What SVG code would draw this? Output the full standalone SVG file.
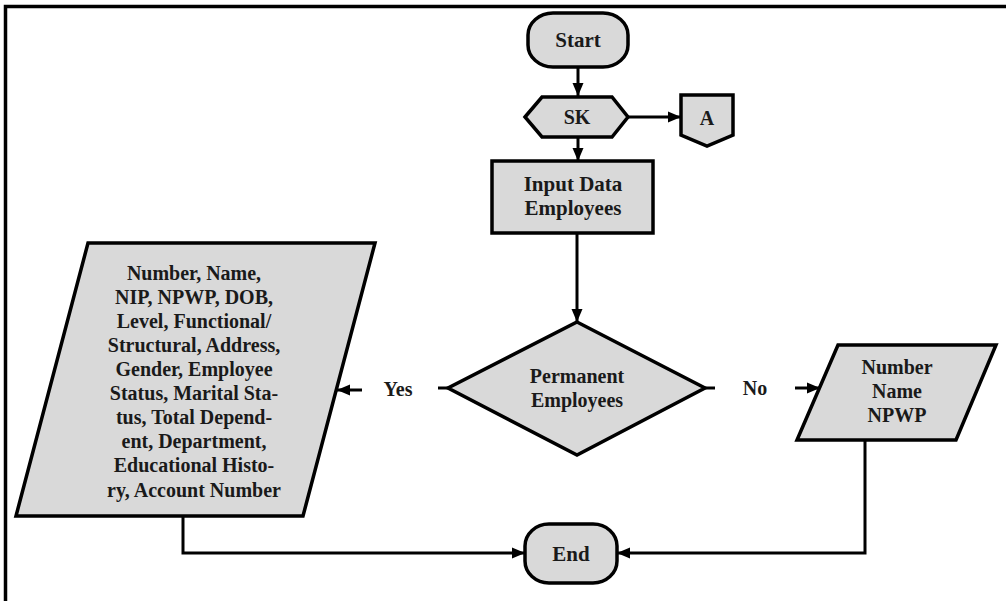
<svg xmlns="http://www.w3.org/2000/svg" width="1006" height="601" viewBox="0 0 1006 601">
<defs>
<marker id="ah" markerUnits="userSpaceOnUse" markerWidth="14" markerHeight="12" refX="13" refY="6" orient="auto">
<path d="M0,0.5 L13,6 L0,11.5 Z" fill="#000"/>
</marker>
<style>
.shape{fill:#d9d9d9;stroke:#000;stroke-width:3.5;stroke-linejoin:miter}
.conn{fill:none;stroke:#000;stroke-width:3}
text{font-family:"Liberation Serif","Times New Roman",serif;font-weight:bold;font-size:20px;fill:#1a1a1a;text-anchor:middle}
.big{font-size:21px}
</style>
</defs>
<rect width="1006" height="601" fill="#fff"/>
<path d="M5.5,601 V6.5 H1006" fill="none" stroke="#000" stroke-width="3.5"/>
<g id="connectors">
<path class="conn" d="M578,67 V96" marker-end="url(#ah)"/>
<path class="conn" d="M628,117 H681" marker-end="url(#ah)"/>
<path class="conn" d="M578,137 V161" marker-end="url(#ah)"/>
<path class="conn" d="M577,233 V322" marker-end="url(#ah)"/>
<path class="conn" d="M448,388 H438"/>
<path class="conn" d="M362,390 H337" marker-end="url(#ah)"/>
<path class="conn" d="M705,388 H715"/>
<path class="conn" d="M795,388 H820" marker-end="url(#ah)"/>
<path class="conn" d="M183,516 V553 H525" marker-end="url(#ah)"/>
<path class="conn" d="M865,440 V553 H617" marker-end="url(#ah)"/>
</g>
<g id="start">
<rect class="shape" x="528" y="13" width="100" height="54" rx="25" ry="22"/>
<text class="big" x="578" y="47">Start</text>
</g>
<g id="sk">
<polygon class="shape" points="525,117 542,97 612,97 628,117 612,137 542,137"/>
<text x="577" y="124">SK</text>
</g>
<g id="connectorA">
<polygon class="shape" points="681,95 733,95 733,135 707,146 681,135"/>
<text x="707" y="125">A</text>
</g>
<g id="input">
<rect class="shape" x="492" y="161" width="161" height="72"/>
<text class="big" x="573" y="191">Input Data</text>
<text class="big" x="573" y="215">Employees</text>
</g>
<g id="decision">
<polygon class="shape" points="577,322 705,388 577,455 448,388"/>
<text x="577" y="383">Permanent</text>
<text x="577" y="407">Employees</text>
</g>
<g id="labelYes"><text x="398" y="396">Yes</text></g>
<g id="labelNo"><text x="755" y="395">No</text></g>
<g id="permanentData">
<polygon class="shape" points="88,243 375,243 303,516 16,516"/>
<g class="big">
<text x="194" y="280">Number, Name,</text>
<text x="194" y="304">NIP, NPWP, DOB,</text>
<text x="194" y="328">Level, Functional/</text>
<text x="194" y="352">Structural, Address,</text>
<text x="194" y="376">Gender, Employee</text>
<text x="194" y="400">Status, Marital Sta-</text>
<text x="194" y="424">tus, Total Depend-</text>
<text x="194" y="448">ent, Department,</text>
<text x="194" y="472">Educational Histo-</text>
<text x="194" y="497">ry, Account Number</text>
</g>
</g>
<g id="contractData">
<polygon class="shape" points="838,345 996,345 956,440 797,440"/>
<text x="897" y="374">Number</text>
<text x="897" y="398">Name</text>
<text x="897" y="422">NPWP</text>
</g>
<g id="end">
<rect class="shape" x="525" y="524" width="92" height="59" rx="24" ry="22"/>
<text class="big" x="571" y="561">End</text>
</g>
</svg>
